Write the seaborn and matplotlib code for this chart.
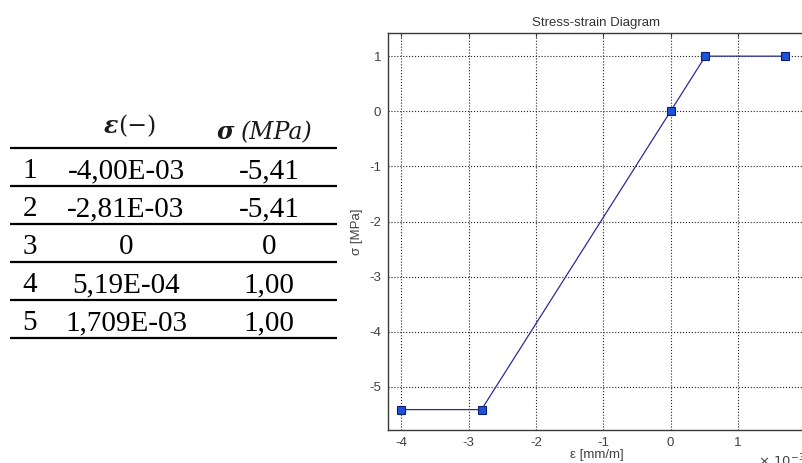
import matplotlib
matplotlib.use("Agg")
import matplotlib.pyplot as plt
import matplotlib.ticker as mticker
import seaborn as sns
import pandas as pd

# table / curve data
row_ids = ['1', '2', '3', '4', '5']
strain = [-4.00e-3, -2.81e-3, 0.0, 5.19e-4, 1.709e-3]
stress = [-5.41, -5.41, 0.0, 1.00, 1.00]
strain_labels = ['-4,00E-03', '-2,81E-03', '0', '5,19E-04', '1,709E-03']
stress_labels = ['-5,41', '-5,41', '0', '1,00', '1,00']

df = pd.DataFrame({'strain': strain, 'stress': stress})

sns.set_style("white")
plt.rcParams['font.family'] = ['Liberation Sans', 'DejaVu Sans']
plt.rcParams['axes.unicode_minus'] = False


class MatlabSci(mticker.ScalarFormatter):
    # plain hyphen tick labels, matlab style multiplier
    def get_offset(self):
        if self.orderOfMagnitude == 0:
            return ''
        return r'$\times\ 10^{%d}$' % self.orderOfMagnitude


W, H = 803, 463
fig = plt.figure(figsize=(W / 100, H / 100), dpi=100)

# ===============================
# left side: the table (pixel coords)
# ===============================
tax = fig.add_axes([0, 0, 1, 1])
tax.set_xlim(0, W)
tax.set_ylim(H, 0)
tax.axis('off')

line_top = 148
row_h = 38
for i in range(len(row_ids) + 1):
    tax.plot([10, 337], [line_top + i * row_h] * 2, color='black', lw=1.6,
             solid_capstyle='butt')

cell_font = dict(family='Liberation Serif', size=21, color='black', va='baseline')
for i, (rid, s_lab, st_lab) in enumerate(zip(row_ids, strain_labels, stress_labels)):
    yb = line_top + i * row_h + 30
    tax.text(30, yb, rid, ha='center', **cell_font)
    tax.text(126, yb, s_lab, ha='center', **cell_font)
    tax.text(269, yb, st_lab, ha='center', **cell_font)

hdr = dict(family='DejaVu Serif', size=17, color='#1c1a18', va='baseline')
tax.text(118, 133, 'ε', ha='right', style='italic', weight='bold', **hdr)
tax.text(118, 133, '(−)', ha='left', **hdr)
tax.text(234, 139, 'σ', ha='right', style='italic', weight='bold', **hdr)
tax.text(241, 139, '(MPa)', ha='left', style='italic', **hdr)

# ===============================
# right side: stress-strain diagram
# ===============================
ax = fig.add_axes([388 / W, 33 / H, 417 / W, 397 / H])
sns.lineplot(data=df, x='strain', y='stress', ax=ax, color='#2b2f8c', lw=0.9,
             marker='s', markersize=5.5, markerfacecolor='#1f52d8',
             markeredgecolor='#0c1f78', markeredgewidth=0.8)

ax.set_xlim(-4.2e-3, 1.999e-3)
ax.set_ylim(-5.78, 1.42)
ax.xaxis.set_major_locator(mticker.MultipleLocator(1e-3))
ax.yaxis.set_major_locator(mticker.MultipleLocator(1))
xfmt = MatlabSci(useMathText=False)
xfmt.set_powerlimits((0, 0))
ax.xaxis.set_major_formatter(xfmt)

ax.grid(True, linestyle=':', color='#222222', lw=0.8)
for sp in ax.spines.values():
    sp.set_color('#3a3a3a')
    sp.set_linewidth(1.0)
ax.tick_params(direction='in', length=3, width=0.8, colors='#3a3a3a',
               labelsize=9.5, labelcolor='#404040', top=True, right=True, pad=5)
ax.xaxis.get_offset_text().set_fontsize(9.5)
ax.xaxis.get_offset_text().set_color('#404040')

ax.set_title('Stress-strain Diagram', fontsize=9.5, color='#333333', pad=5)
ax.set_xlabel('ε [mm/m]', fontsize=9.5, color='#404040', labelpad=0)
ax.set_ylabel('σ [MPa]', fontsize=9.5, color='#404040', labelpad=4)

fig.savefig('out.png', dpi=100)
